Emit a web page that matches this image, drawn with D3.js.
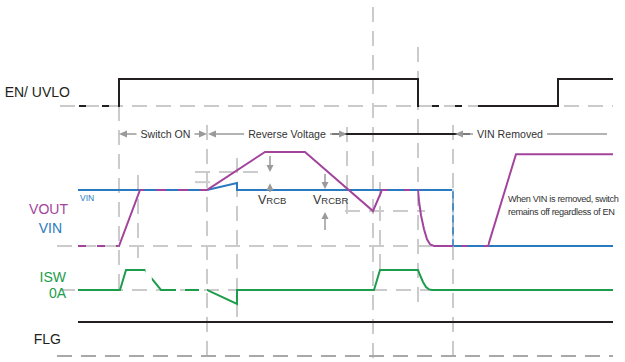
<!DOCTYPE html>
<!-- Timing diagram: EN/UVLO, VOUT/VIN, ISW, FLG through switch-on, reverse voltage and VIN removal. -->
<meta charset="utf-8">
<style>
 body { margin: 0; background: #fff; }
 svg { display: block; font-family: "Liberation Sans", Arial, sans-serif; }
 .guide { fill: none; stroke: #cbcbcb; stroke-width: 2px; stroke-dasharray: 15,9; }
 .floor { stroke: #a8a8a8; }
 .wave { fill: none; stroke-width: 2px; }
 .note { fill: #333; font-size: 10.6px; }
 .arrow { stroke: #9a9a9a; stroke-width: 1.5px; fill: none; }
 .head { fill: #9a9a9a; }
 .label { font-size: 14px; }
 .remark { fill: #333; font-size: 9.2px; letter-spacing: -0.35px; }
</style>

<svg id="chart" width="625" height="362"></svg>

<script src="https://cdn.jsdelivr.net/npm/d3@7"></script>

<script>

 var ink = "#231f20", magenta = "#a3449c", blue = "#2a79c1", green = "#1c9d4b";

 // time in arbitrary units, levels normalised per row
 var enLevels   = [[0,0],[41,0],[41,1],[340,1],[340,0],[405,0],[480,0],[480,1],[535,1]];
 var vinLevels  = [[0,1],[129,1],[159,1.125],[159,1],[375,1],[375,0],[535,0]];
 var voutLevels = [[0,0],[41,0],[62,1],[129,1],[187,1.68],[227,1.68],[295,0.625],[304,1],[340,1],
                   [341,0.8],[343,0.55],[346,0.3],[349,0.12],[352,0.03],[356,0],[410,0],[438,1.64],[535,1.64]];
 var iswLevels  = [[0,0],[42,0],[48,1],[67,1],[74,0.55],[83,0],[129,0],[159,-0.7],[159,0],[296,0],[302,1],[340,1],
                   [342,0.75],[345,0.4],[348,0.15],[351,0.03],[354,0],[535,0]];
 var flgLevels  = [[0,0],[535,0]];

 var phaseNames = ["Switch ON", "Reverse Voltage", "VIN Removed"];
 var phaseStart = [41, 130, 377];
 var phaseEnd   = [129, 269, 529];
 var phaseMid   = [87.5, 209, 432];

 var remarkLines = ["When VIN is removed, switch", "remains off regardless of EN"];

 var vcbLevel  = 1.32, vinBump = 1.14, vcbrLevel = 0.625;

 var x   = d3.scaleLinear().domain([0, 535]).range([78, 613]);
 var yEN = d3.scaleLinear().domain([0, 1]).range([106, 79]);
 var yV  = d3.scaleLinear().domain([0, 1]).range([246, 190]);
 var yI  = d3.scaleLinear().domain([0, 1]).range([290, 270]);
 var yF  = d3.scaleLinear().domain([0, 1]).range([322, 300]);

 var svg = d3.select("#chart");
 var defs = svg.append("defs");
 var clipCount = 0;

 // ---- guides ----
 var gGuide = svg.append("g");
 var vGuides = [[41,106,295],[60,175,258],[129,125,357],[159,158,318],[269,127,215],
                [295,7,362],[302,182,275],[340,47,305],[375,125,362]];
 vGuides.forEach(function(d) {
     gGuide.append("line").attr("class", "guide")
           .attr("x1", x(d[0])).attr("x2", x(d[0])).attr("y1", d[1]).attr("y2", d[2]);
 });
 var hGuides = [[-18,535,yEN(0)],[117,180,yV(vcbLevel)],[117,132,yV(vinBump)],
                [267,347,yV(vcbrLevel)],[-21,535,yV(0)],[-18,535,yI(0)]];
 hGuides.forEach(function(d) {
     gGuide.append("line").attr("class", "guide")
           .attr("x1", x(d[0])).attr("x2", x(d[1])).attr("y1", d[2]).attr("y2", d[2]);
 });
 gGuide.append("line").attr("class", "guide floor")
       .attr("x1", x(-21)).attr("x2", x(535)).attr("y1", 356).attr("y2", 356);

 // ---- waveforms, drawn piecewise through time windows ----
 function wave(data, y, color, parts, curve) {
     var line = d3.line().x(function(d) { return x(d[0]); }).y(function(d) { return y(d[1]); })
                 .curve(curve || d3.curveLinear);
     parts.forEach(function(p) {
         var id = "clip" + (clipCount++);
         defs.append("clipPath").attr("id", id).append("rect")
             .attr("x", x(p[0])).attr("width", x(p[1]) - x(p[0])).attr("y", 0).attr("height", 362);
         svg.append("path").attr("class", "wave").attr("d", line(data))
            .attr("stroke", color).attr("clip-path", "url(#" + id + ")")
            .attr("stroke-dasharray", p[2] || null).attr("stroke-dashoffset", p[3] || 0);
     });
 }

 wave(enLevels, yEN, ink, [[-2,40,"7,16",-1],[40,341.3],[341.3,405,"7,16",-17],[405,537]]);
 wave(vinLevels, yV, blue, [[-1,374.3],[374.3,375.7,"7,5"],[375.7,536]]);
 wave(voutLevels, yV, magenta, [[-1,40.5,"8,11"],[40.5,62.5],[62.5,129,"10,12",-95],[129,304.5],
                                [304.5,339.4,"6,16",-390],[339.4,375],[375,410,"6,16",-470],[410,536]]);
 wave(iswLevels, yI, green, [[-1,67.5],[73.8,98],[107,121],[129,536]]);
 wave(flgLevels, yF, ink, [[-1,536]]);

 // ---- labels ----
 var labels = [["EN/ UVLO", 70, 97, ink], ["VOUT", 68, 214, magenta], ["VIN", 62, 233, blue],
               ["ISW", 66, 282, green], ["0A", 66, 298, green], ["FLG", 61, 344, ink]];
 labels.forEach(function(d) {
     svg.append("text").attr("class", "label").attr("text-anchor", "end")
        .attr("x", d[1]).attr("y", d[2]).attr("fill", d[3]).text(d[0]);
 });
 svg.append("text").attr("x", x(2)).attr("y", 201).attr("fill", blue)
    .style("font-size", "8.5px").text("VIN");

 // ---- arrows ----
 function hHead(xt, yc, dir) {
     svg.append("path").attr("class", "head")
        .attr("d", "M" + xt + "," + yc + "l" + (-dir * 8) + ",-3.5v7z");
 }
 function vArrow(xc, yFrom, yTip) {
     var dir = yTip > yFrom ? 1 : -1;
     svg.append("line").attr("class", "arrow")
        .attr("x1", xc).attr("x2", xc).attr("y1", yFrom).attr("y2", yTip - dir * 6);
     svg.append("path").attr("class", "head")
        .attr("d", "M" + xc + "," + yTip + "l-3.5," + (-dir * 7) + "h7z");
 }

 var rowY = 134;
 svg.append("line").attr("stroke", ink).attr("stroke-width", 2)
    .attr("x1", x(254)).attr("x2", x(392)).attr("y1", rowY).attr("y2", rowY);

 phaseNames.forEach(function(name, i) {
     var t = svg.append("text").attr("class", "note").attr("text-anchor", "middle")
                .attr("x", x(phaseMid[i])).attr("y", rowY + 4).text(name);
     var w = t.node().getComputedTextLength();
     var left = x(phaseMid[i]) - w / 2 - 4, right = x(phaseMid[i]) + w / 2 + 4;
     svg.append("line").attr("class", "arrow").attr("x1", x(phaseStart[i]) + 4).attr("x2", left)
        .attr("y1", rowY).attr("y2", rowY);
     hHead(x(phaseStart[i]), rowY, -1);
     if (i < 2) {
         svg.append("line").attr("class", "arrow").attr("x1", right).attr("x2", x(phaseEnd[i]) - 4)
            .attr("y1", rowY).attr("y2", rowY);
         hHead(x(phaseEnd[i]), rowY, 1);
     } else {
         svg.append("line").attr("class", "arrow").attr("x1", right).attr("x2", x(phaseEnd[i]))
            .attr("y1", rowY).attr("y2", rowY);
     }
 });

 // VRCB / VRCBR markers
 vArrow(x(192), 156, yV(vcbLevel));
 vArrow(x(192), 192, yV(vinBump) + 1);
 vArrow(x(247), 174, yV(1) - 1);
 vArrow(x(247), 230, yV(vcbrLevel) + 1);

 function subLabel(xp, yp, sub) {
     var t = svg.append("text").attr("x", xp).attr("y", yp).attr("fill", "#333");
     t.append("tspan").style("font-size", "12.5px").text("V");
     t.append("tspan").style("font-size", "9.5px").text(sub);
 }
 subLabel(x(180), 204, "RCB");
 subLabel(x(235), 204, "RCBR");

 remarkLines.forEach(function(s, i) {
     svg.append("text").attr("class", "remark").attr("x", x(430)).attr("y", 202 + i * 13).text(s);
 });

</script>
